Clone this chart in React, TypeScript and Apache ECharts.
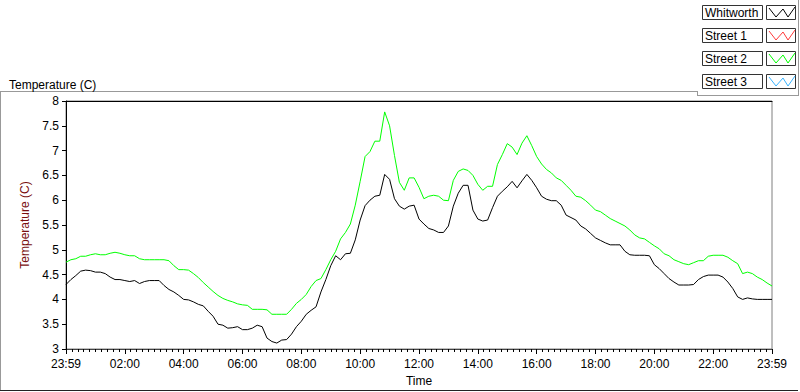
import React, { useEffect, useRef } from "react";
import * as echarts from "echarts";

// time grid: minutes after the 23:59 start (10-minute samples)
const minutes: number[] = Array.from({ length: 145 }, (_, i) => i * 10);

const whitworth: number[] = [
  4.30, 4.40, 4.48, 4.57, 4.59, 4.58, 4.55, 4.55, 4.52, 4.45,
  4.40, 4.40, 4.38, 4.36, 4.38, 4.32, 4.36, 4.38, 4.38, 4.38,
  4.28, 4.20, 4.15, 4.08, 4.00, 3.99, 3.95, 3.90, 3.87, 3.76,
  3.66, 3.50, 3.48, 3.42, 3.43, 3.45, 3.39, 3.39, 3.42, 3.48,
  3.45, 3.22, 3.15, 3.12, 3.18, 3.19, 3.30, 3.45, 3.56, 3.70,
  3.78, 3.85, 4.15, 4.40, 4.68, 4.88, 4.80, 4.92, 4.93, 5.20,
  5.60, 5.89, 6.00, 6.08, 6.10, 6.52, 6.42, 6.03, 5.88, 5.82,
  5.88, 5.90, 5.62, 5.52, 5.43, 5.40, 5.35, 5.35, 5.48, 5.88,
  6.14, 6.30, 6.30, 5.80, 5.62, 5.58, 5.60, 5.85, 6.08, 6.18,
  6.27, 6.38, 6.25, 6.39, 6.52, 6.40, 6.25, 6.08, 6.02, 5.99,
  5.99, 5.90, 5.70, 5.65, 5.60, 5.48, 5.42, 5.33, 5.24, 5.19,
  5.14, 5.10, 5.10, 5.10, 4.97, 4.90, 4.89, 4.89, 4.89, 4.88,
  4.70, 4.62, 4.52, 4.42, 4.35, 4.29, 4.29, 4.29, 4.30, 4.40,
  4.46, 4.49, 4.49, 4.49, 4.45, 4.35, 4.22, 4.05, 4.00, 4.03,
  4.01, 4.00, 4.00, 4.00, 4.00,
];

const street2: number[] = [
  4.75, 4.80, 4.82, 4.87, 4.87, 4.90, 4.92, 4.90, 4.90, 4.93,
  4.95, 4.93, 4.90, 4.88, 4.88, 4.82, 4.80, 4.80, 4.80, 4.80,
  4.80, 4.78, 4.68, 4.60, 4.60, 4.59, 4.52, 4.44, 4.34, 4.25,
  4.16, 4.08, 4.02, 3.98, 3.95, 3.91, 3.89, 3.88, 3.80, 3.80,
  3.80, 3.79, 3.70, 3.70, 3.70, 3.70, 3.80, 3.92, 4.00, 4.10,
  4.26, 4.38, 4.42, 4.60, 4.80, 4.97, 5.22, 5.35, 5.52, 5.90,
  6.38, 6.88, 6.98, 7.19, 7.19, 7.78, 7.50, 6.90, 6.36, 6.20,
  6.45, 6.45, 6.26, 6.03, 6.08, 6.10, 6.08, 6.00, 5.99, 6.40,
  6.58, 6.63, 6.60, 6.50, 6.32, 6.20, 6.28, 6.28, 6.72, 6.92,
  7.14, 7.07, 6.92, 7.15, 7.30, 7.10, 6.88, 6.73, 6.62, 6.55,
  6.45, 6.40, 6.30, 6.20, 6.08, 6.06, 5.99, 5.90, 5.80, 5.77,
  5.70, 5.63, 5.58, 5.53, 5.48, 5.40, 5.30, 5.24, 5.22, 5.15,
  5.08, 5.02, 4.92, 4.88, 4.80, 4.76, 4.72, 4.70, 4.74, 4.78,
  4.78, 4.87, 4.89, 4.89, 4.89, 4.85, 4.78, 4.72, 4.52, 4.55,
  4.52, 4.45, 4.40, 4.33, 4.27,
];

const street1: number[] = [];
const street3: number[] = [];

const seriesNames = ["Whitworth", "Street 1", "Street 2", "Street 3"];
const seriesColors = ["#000000", "#ff3a3a", "#00ff00", "#3ab4ff"];
const seriesValues = [whitworth, street1, street2, street3];

// one label every 120 minutes from the start of the axis
const tickLabels = [
  "23:59", "02:00", "04:00", "06:00", "08:00", "10:00", "12:00",
  "14:00", "16:00", "18:00", "20:00", "22:00", "23:59",
];
const TICK_STEP = 120;

const FONT = "Liberation Sans";

export default function App() {
  const ref = useRef<HTMLDivElement>(null);

  useEffect(() => {
    if (!ref.current) return;
    const chart = echarts.init(ref.current, undefined, { renderer: "svg" });

    const legendGraphics: any[] = [];
    seriesNames.forEach((name, i) => {
      const y0 = 5 + i * 23;
      legendGraphics.push(
        {
          type: "rect",
          shape: { x: 702.5, y: y0 + 0.5, width: 60, height: 14 },
          style: { fill: "#fff", stroke: "#333", lineWidth: 1 },
        },
        {
          type: "text",
          x: 705,
          y: y0 + 8,
          style: { text: name, fill: "#000", font: `12px "${FONT}"`, verticalAlign: "middle", align: "left" },
        },
        {
          type: "rect",
          shape: { x: 766.5, y: y0 + 0.5, width: 29, height: 14 },
          style: { fill: "#fff", stroke: "#333", lineWidth: 1 },
        },
        {
          type: "polyline",
          shape: {
            points: [
              [769, y0 + 3],
              [776, y0 + 12],
              [783, y0 + 4],
              [788, y0 + 12],
              [795, y0 + 2],
            ],
          },
          style: { stroke: seriesColors[i], lineWidth: 1, fill: "none" },
        }
      );
    });

    const option: any = {
      animation: false,
      backgroundColor: "#ffffff",
      textStyle: { fontFamily: FONT },
      title: {
        text: "Temperature (C)",
        left: 4,
        top: 74,
        textStyle: { fontSize: 12, fontWeight: "normal", color: "#000", fontFamily: FONT },
      },
      grid: {
        left: 66,
        top: 101,
        width: 706,
        height: 251,
        show: true,
        borderColor: "#7f7f7f",
        borderWidth: 1,
        backgroundColor: "transparent",
      },
      xAxis: [
        {
          type: "value",
          min: 0,
          max: 1440,
          interval: TICK_STEP,
          position: "bottom",
          name: "Time",
          nameLocation: "middle",
          nameGap: 26,
          nameTextStyle: { color: "#000", fontSize: 12, fontFamily: FONT },
          axisLine: { show: true, onZero: false, lineStyle: { color: "#444", width: 1 } },
          axisTick: { show: true, length: 5, lineStyle: { color: "#000", width: 1 } },
          minorTick: { show: true, splitNumber: 10, length: 3, lineStyle: { color: "#000", width: 1 } },
          axisLabel: {
            formatter: (v: number) => tickLabels[Math.round(v / TICK_STEP)] ?? "",
            color: "#000",
            fontSize: 12,
            margin: 9,
            fontFamily: FONT,
          },
          splitLine: { show: false },
        },
        {
          type: "value",
          min: 0,
          max: 1440,
          position: "top",
          axisLine: { show: true, onZero: false, lineStyle: { color: "#000", width: 1 } },
          axisTick: { show: false },
          axisLabel: { show: false },
          splitLine: { show: false },
        },
      ],
      yAxis: [
        {
          type: "value",
          min: 3,
          max: 8,
          interval: 0.5,
          position: "left",
          name: "Temperature (C)",
          nameLocation: "middle",
          nameGap: 28,
          nameTextStyle: { color: "#7a0f0f", fontSize: 12, fontFamily: FONT },
          axisLine: { show: true, onZero: false, lineStyle: { color: "#000", width: 1 } },
          axisTick: { show: true, length: 4, lineStyle: { color: "#000", width: 1 } },
          axisLabel: { color: "#000", fontSize: 12, margin: 7, fontFamily: FONT },
          splitLine: { show: false },
        },
      ],
      series: [2, 1, 3, 0].map((i) => ({
        name: seriesNames[i],
        type: "line",
        xAxisIndex: 0,
        yAxisIndex: 0,
        showSymbol: false,
        symbol: "none",
        lineStyle: { color: seriesColors[i], width: 1 },
        itemStyle: { color: seriesColors[i] },
        data: seriesValues[i].map((v, k) => [minutes[k], v]),
      })),
      graphic: [
        { type: "line", shape: { x1: 0, y1: 91.5, x2: 697, y2: 91.5 }, style: { stroke: "#999", lineWidth: 1 } },
        { type: "line", shape: { x1: 0.5, y1: 91, x2: 0.5, y2: 391 }, style: { stroke: "#999", lineWidth: 1 } },
        { type: "line", shape: { x1: 0, y1: 390.5, x2: 798, y2: 390.5 }, style: { stroke: "#222", lineWidth: 1 } },
        { type: "line", shape: { x1: 697.5, y1: 91, x2: 697.5, y2: 96 }, style: { stroke: "#999", lineWidth: 1 } },
        { type: "line", shape: { x1: 697, y1: 95.5, x2: 799, y2: 95.5 }, style: { stroke: "#999", lineWidth: 1 } },
        { type: "line", shape: { x1: 798.5, y1: 0, x2: 798.5, y2: 96 }, style: { stroke: "#999", lineWidth: 1 } },
        ...legendGraphics,
      ],
    };

    chart.setOption(option);
    return () => chart.dispose();
  }, []);

  return (
    <div
      ref={ref}
      style={{ position: "absolute", left: 0, top: 0, width: 800, height: 392, background: "#fff" }}
    />
  );
}
